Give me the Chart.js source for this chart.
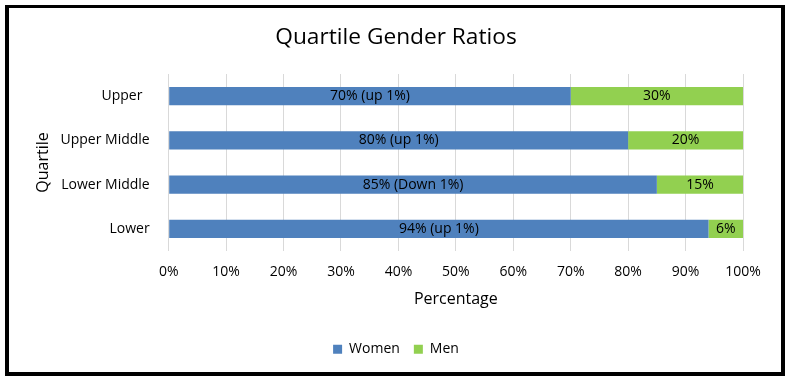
<!DOCTYPE html>
<html>
<head>
<meta charset="utf-8">
<script src="https://cdn.jsdelivr.net/npm/chart.js@4"></script>
<style>
  html, body { margin: 0; padding: 0; background: #fff; }
  canvas { display: block; }
</style>
</head>
<body>
<canvas id="c" width="789" height="381"></canvas>
<script>
// ---- data ----
const categories = ['Upper  ', 'Upper Middle', 'Lower Middle', 'Lower'];
const womenValues = [70, 80, 85, 94];
const menValues = [30, 20, 15, 6];
const womenLabels = ['70% (up 1%)', '80% (up 1%)', '85% (Down 1%)', '94% (up 1%)'];
const menLabels = ['30%', '20%', '15%', '6%'];
const xTickLabels = ['0%', '10%', '20%', '30%', '40%', '50%', '60%', '70%', '80%', '90%', '100%'];

const FONT = '"Open Sans", "Noto Sans", sans-serif';

const frame = {
  id: 'frame',
  beforeDraw(chart) {
    const ctx = chart.ctx;
    ctx.save();
    ctx.fillStyle = '#ffffff';
    ctx.fillRect(0, 0, chart.width, chart.height);
    ctx.fillStyle = '#000000';
    ctx.fillRect(5, 5, 780, 3);     // top
    ctx.fillRect(5, 5, 4, 371);     // left
    ctx.fillRect(781, 5, 4, 371);   // right
    ctx.fillRect(5, 372, 780, 4);   // bottom
    ctx.restore();
  }
};

const barLabels = {
  id: 'barLabels',
  afterDatasetsDraw(chart) {
    const ctx = chart.ctx;
    const texts = [womenLabels, menLabels];
    ctx.save();
    ctx.font = '14px ' + FONT;
    ctx.fillStyle = '#000000';
    ctx.textAlign = 'center';
    ctx.textBaseline = 'middle';
    chart.data.datasets.forEach((ds, di) => {
      const meta = chart.getDatasetMeta(di);
      meta.data.forEach((el, i) => {
        const p = el.getCenterPoint();
        ctx.fillText(texts[di][i], p.x, p.y);
      });
    });
    ctx.restore();
  }
};

new Chart(document.getElementById('c'), {
  type: 'bar',
  data: {
    labels: categories,
    datasets: [
      { label: 'Women', data: womenValues, backgroundColor: '#4f81bd', borderWidth: 0 },
      { label: 'Men', data: menValues, backgroundColor: '#92d050', borderWidth: 0 }
    ]
  },
  plugins: [frame, barLabels],
  options: {
    indexAxis: 'y',
    responsive: false,
    animation: false,
    devicePixelRatio: 1,
    layout: { padding: { left: 8, right: 5, top: 0, bottom: 14.7 } },
    datasets: { bar: { barPercentage: 0.407, categoryPercentage: 1 } },
    scales: {
      x: {
        stacked: true,
        min: 0,
        max: 100,
        grid: { color: '#d9d9d9', lineWidth: 1, drawTicks: false },
        border: { display: false },
        ticks: {
          stepSize: 10,
          padding: 13,
          color: '#000',
          font: { family: FONT, size: 14 },
          callback: (v, i) => xTickLabels[i]
        },
        title: {
          display: true,
          text: 'Percentage',
          color: '#000',
          font: { family: FONT, size: 16 },
          padding: { top: 9.1, bottom: 19.2 }
        },
        afterFit(scale) { scale.paddingLeft = 0; scale.paddingRight = 46; scale.height = 77.3; }
      },
      y: {
        stacked: true,
        grid: { display: false },
        border: { display: false },
        ticks: {
          padding: 11,
          color: '#000',
          font: { family: FONT, size: 14 }
        },
        title: {
          display: true,
          text: 'Quartile',
          color: '#000',
          font: { family: FONT, size: 16 },
          padding: { top: 25.4, bottom: 0 }
        },
        afterFit(scale) { scale.width = 160.7; }
      }
    },
    plugins: {
      title: {
        display: true,
        text: 'Quartile Gender Ratios',
        color: '#000',
        font: { family: FONT, size: 22.7, weight: 'normal' },
        padding: { top: 23.5, bottom: 23.26 }
      },
      legend: {
        display: true,
        position: 'bottom',
        labels: {
          boxWidth: 9,
          boxHeight: 9,
          padding: 14,
          color: '#000',
          font: { family: FONT, size: 14 }
        }
      },
      tooltip: { enabled: false }
    }
  }
});
</script>
</body>
</html>
